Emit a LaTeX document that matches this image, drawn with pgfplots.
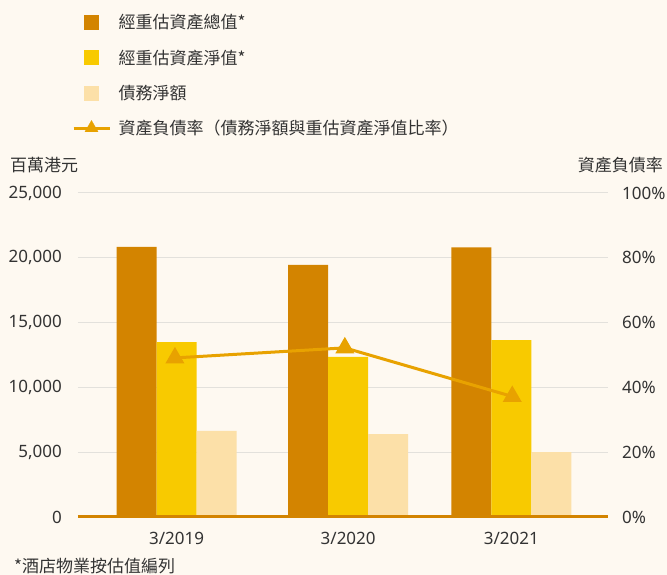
\documentclass[border=0pt]{standalone}
\usepackage{pgfplots}
\pgfplotsset{compat=1.18}
\usepackage{fontspec}
\setmainfont{Noto Sans}
\newfontfamily\cjk{Noto Sans CJK TC}
\definecolor{bg}{HTML}{FEF9F1}
\definecolor{cDark}{HTML}{D38400}
\definecolor{cYel}{HTML}{F8CA00}
\definecolor{cLight}{HTML}{FCE0A8}
\definecolor{cLine}{HTML}{E8A200}
\definecolor{cGrid}{HTML}{E3E1DC}
\definecolor{cText}{HTML}{333333}
\newcommand\fs{\fontsize{17bp}{20bp}\selectfont}
\begin{document}
\begin{tikzpicture}
\fill[bg] (-78bp,-58bp) rectangle (589bp,517bp);
\useasboundingbox (-78bp,-58bp) rectangle (589bp,517bp);
\begin{axis}[
  scale only axis, width=530bp, height=324bp,
  at={(0,0)}, anchor=south west,
  xmin=-0.589, xmax=2.577, ymin=0, ymax=25000,
  axis line style={draw=none},
  ytick={0,5000,...,25000}, scaled y ticks=false,
  ymajorgrids, major grid style={cGrid, line width=1bp},
  xtick={0,1.025,2}, xticklabels={3/2019,3/2020,3/2021},
  major tick length=0pt,
  /pgf/number format/assume math mode=true,
  tick label style={font=\fs, text=cText, inner sep=0pt},
  yticklabel style={xshift=-16bp},
  xticklabel style={yshift=-15bp},
  legend style={at={(axis description cs:-0.0113,1.551)}, anchor=north west,
    draw=none, fill=none, inner sep=0pt, outer sep=0pt,
    row sep=19.3bp, column sep=7.5bp,
    nodes={inner sep=0pt, text=cText, font=\fs\cjk}},
  legend cell align=left,
]
\addplot[ybar, bar width=0.239, bar shift=-0.239, fill=cDark, draw=none, forget plot] coordinates {(0,20850) (1.025,19450) (2,20800)};
\addplot[ybar, bar width=0.239, bar shift=0, fill=cYel, draw=none, forget plot] coordinates {(0,13500) (1.025,12350) (2,13650)};
\addplot[ybar, bar width=0.239, bar shift=0.239, fill=cLight, draw=none, forget plot] coordinates {(0,6650) (1.025,6400) (2,5000)};
\addlegendimage{legend image code/.code={\fill[cDark] (11bp,-7bp) rectangle (25bp,7bp);}}
\addlegendentry{經重估資產總值*}
\addlegendimage{legend image code/.code={\fill[cYel] (11bp,-7bp) rectangle (25bp,7bp);}}
\addlegendentry{經重估資產淨值*}
\addlegendimage{legend image code/.code={\fill[cLight] (11bp,-7bp) rectangle (25bp,7bp);}}
\addlegendentry{債務淨額}
\addlegendimage{legend image code/.code={\draw[cLine, line width=3bp] (0bp,0bp) -- (36bp,0bp); \draw[cLine] plot[mark=triangle*, mark size=7.5bp] coordinates {(18bp,0bp)};}}
\addlegendentry{資產負債率（債務淨額與重估資產淨值比率）}
\draw[cDark, line width=4.5bp] (rel axis cs:0,0) -- (rel axis cs:1,0);
\end{axis}
\begin{axis}[
  scale only axis, width=530bp, height=324bp,
  at={(0,0)}, anchor=south west,
  xmin=-0.589, xmax=2.577, ymin=0, ymax=100,
  axis line style={draw=none},
  xtick=\empty, ytick={0,20,...,100},
  yticklabel pos=right,
  yticklabel={\pgfmathprintnumber{\tick}\%},
  major tick length=0pt,
  /pgf/number format/assume math mode=true,
  tick label style={font=\fs, text=cText, inner sep=0pt},
  yticklabel style={xshift=14bp},
]
\addplot[cLine, line width=3bp, mark=triangle*, mark size=8bp, mark options={solid}] coordinates {(-0.01,49.1) (1.005,52.2) (2.005,37.2)};
\end{axis}
\node[anchor=west, inner sep=0pt, text=cText, font=\fs\cjk] at (-68bp,352bp) {百萬港元};
\node[anchor=east, inner sep=0pt, text=cText, font=\fs\cjk] at (585bp,352bp) {資產負債率};
\node[anchor=west, inner sep=0pt, text=cText, font=\fs\cjk] at (-64bp,-49bp) {*酒店物業按估值編列};
\end{tikzpicture}
\end{document}
